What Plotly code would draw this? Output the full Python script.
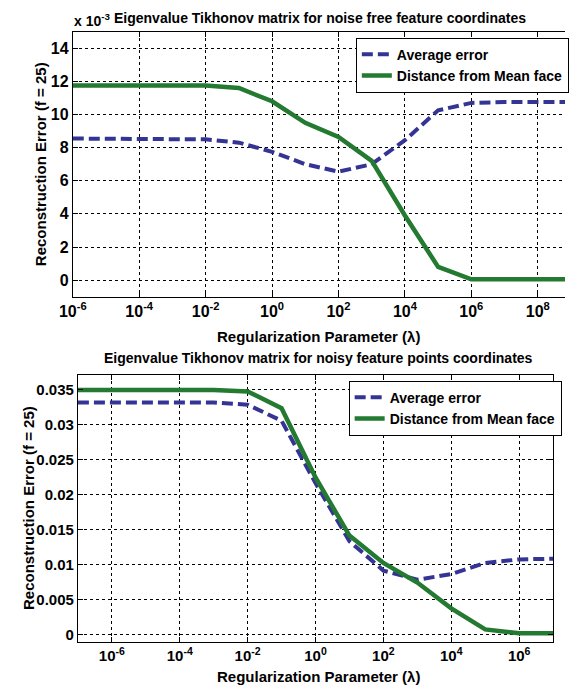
import plotly.graph_objects as go

# ---------------- data ----------------
# top panel (values in units of 1e-3)
lam_top = [1e-6, 1e-5, 1e-4, 1e-3, 1e-2, 1e-1, 1e0, 1e1, 1e2, 1e3, 1e4, 1e5, 1e6, 1e7, 1e8, 1e9, 1e10]
avg_top = [8.55, 8.55, 8.55, 8.55, 8.5, 8.3, 7.75, 7.0, 6.55, 7.0, 8.45, 10.25, 10.7, 10.75, 10.75, 10.75, 10.75]
dist_top = [11.75, 11.75, 11.75, 11.75, 11.75, 11.6, 10.8, 9.5, 8.65, 7.2, 3.9, 0.8, 0.05, 0.05, 0.05, 0.05, 0.05]

# bottom panel
lam_bot = [1e-7, 1e-6, 1e-5, 1e-4, 1e-3, 1e-2, 1e-1, 1e0, 1e1, 1e2, 1e3, 1e4, 1e5, 1e6, 1e7]
avg_bot = [0.0331, 0.0331, 0.0331, 0.0331, 0.0331, 0.0328, 0.0305, 0.0216, 0.0133, 0.0091, 0.0078, 0.0086, 0.0102, 0.0107, 0.0108]
dist_bot = [0.0349, 0.0349, 0.0349, 0.0349, 0.0349, 0.0347, 0.0323, 0.0224, 0.0141, 0.0102, 0.0074, 0.0037, 0.0007, 0.00014, 0.00014]

top_xticks = [1e-6, 1e-4, 1e-2, 1e0, 1e2, 1e4, 1e6, 1e8]
top_xticktext = ["10<sup>-6</sup>", "10<sup>-4</sup>", "10<sup>-2</sup>", "10<sup>0</sup>",
                 "10<sup>2</sup>", "10<sup>4</sup>", "10<sup>6</sup>", "10<sup>8</sup>"]
top_yticks = [0, 2, 4, 6, 8, 10, 12, 14]

bot_xticks = [1e-6, 1e-4, 1e-2, 1e0, 1e2, 1e4, 1e6]
bot_xticktext = ["10<sup>-6</sup>", "10<sup>-4</sup>", "10<sup>-2</sup>", "10<sup>0</sup>",
                 "10<sup>2</sup>", "10<sup>4</sup>", "10<sup>6</sup>"]
bot_yticks = [0, 0.005, 0.01, 0.015, 0.02, 0.025, 0.03, 0.035]
bot_yticktext = ["0", "0.005", "0.01", "0.015", "0.02", "0.025", "0.03", "0.035"]

series_names = ["Average error", "Distance from Mean face"]
title_top = "Eigenvalue Tikhonov matrix for noise free feature coordinates"
title_bot = "Eigenvalue Tikhonov matrix for noisy feature points coordinates"
xlabel = "Regularization Parameter (\u03bb)"
ylabel = "Reconstruction Error (f = 25)"

# ---------------- style ----------------
W, H = 569, 685
BLUE = "#343494"
GREEN = "#237a30"
FONT = "Liberation Sans"

def px_x(p):
    return p / W

def px_y(p):
    return 1 - p / H

fig = go.Figure()
fig.add_trace(go.Scatter(x=lam_top, y=avg_top, mode="lines", name=series_names[0],
                         line=dict(color=BLUE, width=4, dash="11px,5px"),
                         xaxis="x", yaxis="y", legend="legend"))
fig.add_trace(go.Scatter(x=lam_top, y=dist_top, mode="lines", name=series_names[1],
                         line=dict(color=GREEN, width=4.5),
                         xaxis="x", yaxis="y", legend="legend"))
fig.add_trace(go.Scatter(x=lam_bot, y=avg_bot, mode="lines", name=series_names[0],
                         line=dict(color=BLUE, width=4, dash="11px,5px"),
                         xaxis="x2", yaxis="y2", legend="legend2"))
fig.add_trace(go.Scatter(x=lam_bot, y=dist_bot, mode="lines", name=series_names[1],
                         line=dict(color=GREEN, width=4.5),
                         xaxis="x2", yaxis="y2", legend="legend2"))

axis_common = dict(showline=True, linecolor="black", linewidth=1,
                   ticks="inside", ticklen=5, tickcolor="black",
                   showgrid=True, gridcolor="black", griddash="3px,3px", gridwidth=1,
                   zeroline=False)
tf16 = dict(family=FONT, size=16, color="black", weight="bold")
tf15 = dict(family=FONT, size=15, color="black", weight="bold")
tf14 = dict(family=FONT, size=14, color="black", weight="bold")

fig.update_layout(
    width=W, height=H,
    margin=dict(l=0, r=0, t=0, b=0),
    paper_bgcolor="white", plot_bgcolor="white",
    xaxis=dict(type="log", range=[-6, 8.82], domain=[px_x(60.7), 1.0], anchor="y",
               tickvals=top_xticks, ticktext=top_xticktext, tickfont=tf16,
               mirror="ticks", **axis_common),
    yaxis=dict(range=[-1, 15], domain=[px_y(296.7), px_y(31.7)], anchor="x",
               tickvals=top_yticks, tickfont=tf16, mirror=False, **axis_common),
    xaxis2=dict(type="log", range=[-7, 7], domain=[px_x(66), px_x(556.7)], anchor="y2",
                tickvals=bot_xticks, ticktext=bot_xticktext, tickfont=tf15,
                mirror="ticks", **axis_common),
    yaxis2=dict(range=[-0.00114, 0.03704], domain=[px_y(642.3), px_y(375)], anchor="x2",
                tickvals=bot_yticks, ticktext=bot_yticktext, tickfont=tf15,
                mirror="ticks", **axis_common),
    legend=dict(x=px_x(353), y=px_y(37.7), xanchor="left", yanchor="top",
                bgcolor="white", bordercolor="black", borderwidth=1,
                font=tf14, tracegroupgap=0),
    legend2=dict(x=px_x(345.6), y=px_y(380.7), xanchor="left", yanchor="top",
                 bgcolor="white", bordercolor="black", borderwidth=1,
                 font=tf14, tracegroupgap=0),
    showlegend=True,
)

def ann(text, x, y, size=14, angle=0, xanchor="center"):
    fig.add_annotation(text=text, x=px_x(x), y=px_y(y), xref="paper", yref="paper",
                       xanchor=xanchor, yanchor="middle", showarrow=False, textangle=angle,
                       font=dict(family=FONT, size=size, color="black", weight="bold"))

ann("x 10<sup>-3</sup>", 60, 20, size=14, xanchor="left")
ann(title_top, 316, 17.5, size=14)
ann(xlabel, 314, 336.7, size=15)
ann(title_bot, 314, 358, size=14)
ann(xlabel, 314, 676, size=15)
ann(ylabel, 27, 164, size=15, angle=-90)
ann(ylabel, 15, 508.5, size=15, angle=-90)

fig.write_html("out.html", config={"displayModeBar": False},
               post_script="document.body.style.margin='0';document.body.style.overflow='hidden';")
